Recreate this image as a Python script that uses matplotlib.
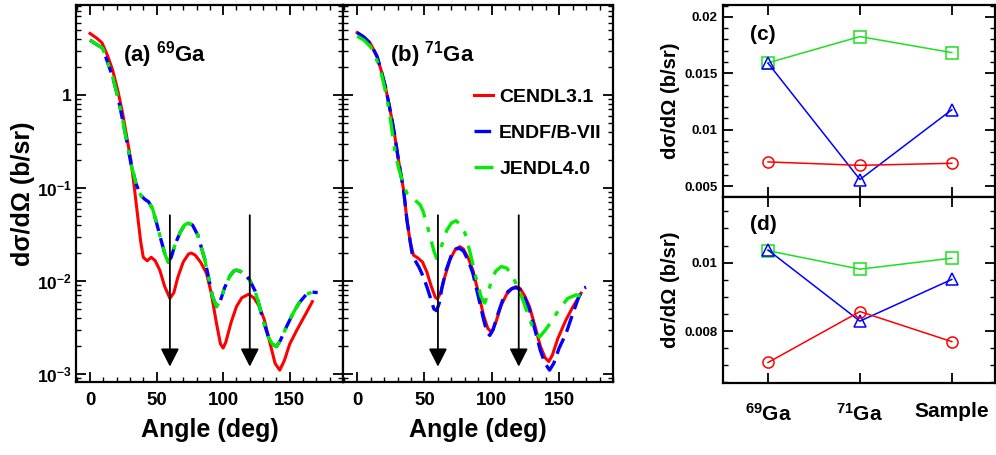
import numpy as np
import matplotlib
matplotlib.use("Agg")
import matplotlib.pyplot as plt
from matplotlib.ticker import FixedLocator, LogLocator, NullFormatter, MultipleLocator

plt.rcParams["font.family"] = ["Liberation Sans", "DejaVu Sans"]
plt.rcParams["font.weight"] = "bold"
plt.rcParams["mathtext.fontset"] = "custom"
plt.rcParams["mathtext.bf"] = "Liberation Sans:bold"
plt.rcParams["mathtext.rm"] = "Liberation Sans:bold"
plt.rcParams["mathtext.default"] = "bf"

# ---- panel (a): 69Ga angular distributions ----
a_cendl_ang = [0, 5, 9, 13, 17, 21, 24.5, 28, 30.7, 33, 35.8, 38, 40, 43, 46, 49, 52.5, 56, 60, 63,
               66, 70, 74, 76, 79, 83, 87.5, 91, 95, 98, 100, 102, 106, 110, 114, 119, 123, 127,
               131, 135, 139, 142.5, 146, 150, 155, 159, 163, 167]
a_cendl_val = [4.6, 4.1, 3.65, 2.7, 1.86, 1.1, 0.64, 0.33, 0.2, 0.11, 0.05, 0.027, 0.018, 0.0165,
               0.018, 0.0165, 0.013, 0.0088, 0.0065, 0.0075, 0.011, 0.016, 0.0195, 0.02, 0.019,
               0.016, 0.0121, 0.0075, 0.0035, 0.0021, 0.0019, 0.0022, 0.0036, 0.0053, 0.0066,
               0.0072, 0.0066, 0.0054, 0.0038, 0.0022, 0.0013, 0.0011, 0.0014, 0.0021, 0.0029,
               0.0037, 0.0047, 0.006]
a_endf_ang = [0, 5, 9.5, 13, 17, 21, 24.5, 28, 30.7, 34.5, 38, 41, 44, 47, 50, 53.7, 56.5, 58.7, 61,
              64, 68, 71, 73.7, 77, 81, 86, 89, 92, 95, 98, 101, 105, 108, 110, 113, 117, 120, 124,
              127, 130, 134, 137, 140, 143, 147, 152.5, 157, 162.5, 167, 171]
a_endf_val = [3.9, 3.5, 3.2, 2.3, 1.57, 0.95, 0.54, 0.3, 0.185, 0.112, 0.084, 0.076, 0.071, 0.06,
              0.042, 0.0265, 0.019, 0.016, 0.018, 0.025, 0.034, 0.04, 0.042, 0.04, 0.031, 0.0175,
              0.011, 0.0068, 0.0053, 0.0062, 0.0084, 0.0113, 0.0128, 0.0131, 0.0127, 0.0115,
              0.0102, 0.0078, 0.0055, 0.0038, 0.0025, 0.0021, 0.00197, 0.0023, 0.0031, 0.0045,
              0.0058, 0.0072, 0.0076, 0.0075]
a_jendl_ang = [0, 5, 9.5, 13, 17, 21, 24.5, 28, 30.7, 34.5, 38, 41, 44, 47, 50, 53.7, 56.5, 58.7, 61,
               64, 68, 71, 73.7, 77, 81, 86, 89, 92, 95, 98, 101, 105, 108, 110, 113, 117, 120, 124,
               127, 130, 134, 137, 140, 143, 147, 152.5, 157, 162.5, 167, 173]
a_jendl_val = [3.9, 3.5, 3.2, 2.3, 1.57, 0.95, 0.54, 0.3, 0.185, 0.112, 0.084, 0.076, 0.071, 0.06,
               0.042, 0.0265, 0.019, 0.016, 0.018, 0.025, 0.034, 0.04, 0.042, 0.04, 0.031, 0.0175,
               0.011, 0.0068, 0.0053, 0.0062, 0.0084, 0.0113, 0.0128, 0.0131, 0.0127, 0.0115,
               0.0102, 0.0078, 0.0055, 0.0038, 0.0025, 0.0021, 0.00197, 0.0023, 0.0031, 0.0045,
               0.0058, 0.0072, 0.0076, 0.0072]

# ---- panel (b): 71Ga angular distributions ----
b_cendl_ang = [0, 5, 9.8, 14.8, 18, 21, 24, 25.9, 28, 30.7, 32.5, 34.5, 37, 39.5, 41.8, 45.5, 48.5,
               51.7, 55, 58, 59.6, 62, 65, 69, 73, 76.3, 79, 83, 86, 90, 94, 97, 99.8, 103, 107,
               111, 115, 118, 121, 124.5, 128, 132, 136, 139.5, 142.3, 145, 149, 155, 160, 166.3]
b_cendl_val = [4.7, 4.2, 3.6, 2.6, 1.8, 1.23, 0.75, 0.54, 0.36, 0.2, 0.14, 0.095, 0.045, 0.026,
               0.019, 0.0175, 0.016, 0.0126, 0.0088, 0.0067, 0.0064, 0.0075, 0.011, 0.017, 0.022,
               0.0234, 0.022, 0.017, 0.013, 0.0075, 0.0042, 0.0031, 0.0028, 0.0036, 0.0055, 0.0072,
               0.0083, 0.0087, 0.0083, 0.0069, 0.0053, 0.0033, 0.002, 0.0015, 0.00136, 0.0016,
               0.0024, 0.0038, 0.0052, 0.0074]
b_endf_ang = [0, 5, 9.8, 14.8, 18, 21, 24, 25.9, 28, 30.7, 32.5, 34.5, 37, 39.5, 41, 43, 46, 49, 52,
              55, 57, 59, 61, 63, 66, 70, 73, 76, 79, 83, 86, 90, 94, 96.5, 98.5, 101, 104, 108,
              112, 115, 118, 121, 124.5, 128, 132, 136, 139.5, 142.9, 146, 150, 155, 160, 164,
              167.5, 170]
b_endf_val = [4.7, 4.2, 3.6, 2.6, 1.8, 1.23, 0.75, 0.54, 0.36, 0.2, 0.14, 0.095, 0.045, 0.026,
              0.019, 0.0167, 0.014, 0.0112, 0.0085, 0.0062, 0.005, 0.0048, 0.0058, 0.0085, 0.013,
              0.019, 0.022, 0.0225, 0.021, 0.016, 0.012, 0.0068, 0.0038, 0.0028, 0.0026, 0.003,
              0.0042, 0.0062, 0.0077, 0.0083, 0.0085, 0.0081, 0.0066, 0.0049, 0.003, 0.0018,
              0.0013, 0.0011, 0.0013, 0.0019, 0.0027, 0.0044, 0.0064, 0.0083, 0.0086]
b_jendl_ang = [0, 5, 10, 15, 18, 21, 24, 28.3, 31, 34.5, 37, 39.4, 43, 46.8, 49, 52, 54.2, 57, 59,
               61, 63.5, 66.5, 70, 73.4, 77, 80, 84, 88.7, 92, 94.8, 97, 99.8, 103, 107, 111,
               115.8, 119, 123, 127, 131, 135.5, 140, 145, 150, 156.4, 162.6, 167, 172.4]
b_jendl_val = [4.3, 3.9, 3.3, 2.3, 1.7, 1.1, 0.65, 0.236, 0.16, 0.108, 0.088, 0.084, 0.074, 0.066,
               0.056, 0.04, 0.03, 0.021, 0.0175, 0.02, 0.026, 0.035, 0.042, 0.0445, 0.04, 0.033,
               0.02, 0.0102, 0.0068, 0.0058, 0.0072, 0.0102, 0.0128, 0.0143, 0.0138, 0.0112,
               0.0085, 0.0063, 0.0043, 0.003, 0.0025, 0.003, 0.0038, 0.005, 0.0065, 0.0071,
               0.0068, 0.0064]

arrow_angles = [60, 120]

# ---- panels (c), (d): values at the arrow angles ----
targets = ["$^{69}$Ga", "$^{71}$Ga", "Sample"]
c_cendl = [0.00714, 0.00684, 0.00702]
c_endf = [0.0159, 0.00558, 0.01177]
c_jendl = [0.01593, 0.01826, 0.01684]
d_cendl = [0.00708, 0.00857, 0.00769]
d_endf = [0.01037, 0.00829, 0.00951]
d_jendl = [0.01035, 0.00981, 0.01013]

RED, BLUE, GREEN = "#ff0000", "#0000ff", "#00ee00"
GREEN2 = "#1ee01e"
dash_blue = (0, (5, 2.2))
dash_green = (0, (6, 3, 1.5, 3))

fig = plt.figure(figsize=(9.96, 4.55), dpi=100)
W, H = 996, 455


def box(x0, x1, ytop, ybot):
    return [x0 / W, 1 - ybot / H, (x1 - x0) / W, (ybot - ytop) / H]


ax_a = fig.add_axes(box(76, 343, 5, 382))
ax_b = fig.add_axes(box(343, 613, 5, 382))
ax_c = fig.add_axes(box(723, 995, 5, 197))
ax_d = fig.add_axes(box(723, 995, 197, 383))


def style(ax):
    for s in ax.spines.values():
        s.set_linewidth(1.6)
    ax.tick_params(which="both", direction="in", top=True, right=True)
    ax.tick_params(which="major", length=7, width=1.3)
    ax.tick_params(which="minor", length=3.5, width=1.0)


for ax, cen, end, jen in [
    (ax_a, (a_cendl_ang, a_cendl_val), (a_endf_ang, a_endf_val), (a_jendl_ang, a_jendl_val)),
    (ax_b, (b_cendl_ang, b_cendl_val), (b_endf_ang, b_endf_val), (b_jendl_ang, b_jendl_val)),
]:
    ax.plot(*cen, color=RED, lw=2.2, label="CENDL3.1", zorder=3)
    ax.plot(*end, color=BLUE, lw=2.4, ls=dash_blue, label="ENDF/B-VII", zorder=4)
    ax.plot(*jen, color=GREEN, lw=2.4, ls=dash_green, label="JENDL4.0", zorder=5)
    for ang in arrow_angles:
        ax.annotate("", xy=(ang, 1.2e-3), xytext=(ang, 0.051),
                    arrowprops=dict(arrowstyle="-|>,head_length=0.55,head_width=0.28",
                                    color="black", lw=1.3, mutation_scale=20,
                                    shrinkA=0, shrinkB=0), zorder=6)
    ax.set_yscale("log")
    ax.set_ylim(8.2e-4, 9.3)
    ax.set_xlim(-10.5, 190)
    ax.xaxis.set_major_locator(FixedLocator([0, 50, 100, 150]))
    ax.xaxis.set_minor_locator(MultipleLocator(10))
    ax.yaxis.set_major_locator(LogLocator(base=10))
    ax.yaxis.set_minor_locator(LogLocator(base=10, subs=np.arange(2, 10)))
    ax.yaxis.set_minor_formatter(NullFormatter())
    style(ax)
    ax.tick_params(axis="x", labelsize=13.5, pad=7)
    ax.set_xlabel("Angle (deg)", fontsize=18, fontweight="bold", labelpad=7)

ax_a.yaxis.set_major_locator(FixedLocator([1e-3, 1e-2, 1e-1, 1]))
ax_a.set_yticklabels(["10$^{-3}$", "10$^{-2}$", "10$^{-1}$", "1"])
ax_a.tick_params(axis="y", labelsize=12.5, pad=3)
ax_a.set_ylabel("dσ/dΩ (b/sr)", fontsize=18, fontweight="bold", labelpad=1)
ax_b.tick_params(axis="y", labelleft=False)

ax_a.text(0.176, 0.91, "(a) $^{69}$Ga", transform=ax_a.transAxes, fontsize=16,
          fontweight="bold", va="top")
ax_b.text(0.174, 0.91, "(b) $^{71}$Ga", transform=ax_b.transAxes, fontsize=16,
          fontweight="bold", va="top")

leg = ax_b.legend(loc="upper left", bbox_to_anchor=(0.485, 0.78), frameon=False,
                  fontsize=14, handlelength=1.0, handletextpad=0.3, labelspacing=0.95,
                  borderaxespad=0, borderpad=0)
for t in leg.get_texts():
    t.set_fontweight("bold")

x = np.arange(len(targets))
for ax, cen, end, jen in [(ax_c, c_cendl, c_endf, c_jendl), (ax_d, d_cendl, d_endf, d_jendl)]:
    ax.plot(x, jen, color=GREEN2, lw=1.1, marker="s", ms=8, mfc="none", mew=1.1)
    ax.plot(x, end, color=BLUE, lw=1.1, marker="^", ms=8.5, mfc="none", mew=1.1)
    ax.plot(x, cen, color=RED, lw=1.1, marker="o", ms=8, mfc="none", mew=1.1)
    ax.set_xlim(-0.49, 2.47)
    ax.set_xticks(x)
    style(ax)
    ax.tick_params(axis="y", labelsize=9.5, pad=4)
    ax.set_ylabel("dσ/dΩ (b/sr)", fontsize=14.5, fontweight="bold", labelpad=3)

ax_c.set_ylim(0.00403, 0.02106)
ax_c.yaxis.set_major_locator(FixedLocator([0.005, 0.01, 0.015, 0.02]))
ax_c.set_yticklabels(["0.005", "0.01", "0.015", "0.02"])
ax_c.yaxis.set_minor_locator(MultipleLocator(0.001))
ax_c.tick_params(axis="x", labelbottom=False)
ax_c.text(0.10, 0.896, "(c)", transform=ax_c.transAxes, fontsize=15, fontweight="bold", va="top")

ax_d.set_ylim(0.00648, 0.01192)
ax_d.yaxis.set_major_locator(FixedLocator([0.008, 0.01]))
ax_d.set_yticklabels(["0.008", "0.01"])
ax_d.yaxis.set_minor_locator(MultipleLocator(0.0005))
ax_d.set_xticklabels(targets)
ax_d.tick_params(axis="x", labelsize=15, pad=14)
ax_d.text(0.10, 0.903, "(d)", transform=ax_d.transAxes, fontsize=15, fontweight="bold", va="top")

fig.savefig("out.png", dpi=100)
